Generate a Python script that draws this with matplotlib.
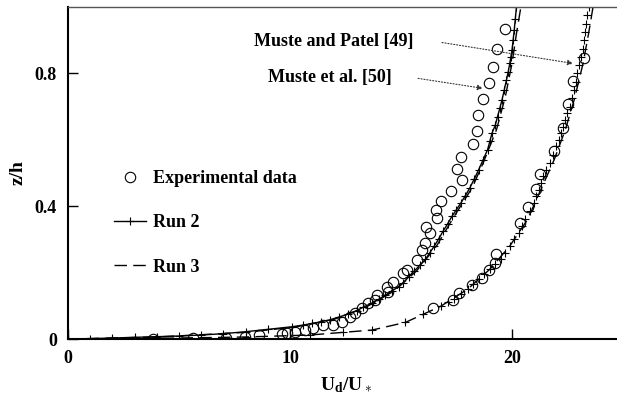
import numpy as np
import matplotlib
matplotlib.use("Agg")
import matplotlib.pyplot as plt

plt.rcParams['font.family'] = ['Liberation Serif', 'DejaVu Serif']
plt.rcParams['font.weight'] = 'bold'
plt.rcParams['mathtext.fontset'] = 'custom'
plt.rcParams['mathtext.rm'] = 'Liberation Serif:bold'
plt.rcParams['mathtext.bf'] = 'Liberation Serif:bold'
plt.rcParams['mathtext.it'] = 'Liberation Serif:bold:italic'

# experimental data, Muste et al. [50] (left profile)
exp_left_u = [19.68, 19.32, 19.14, 18.96, 18.69, 18.47, 18.42, 18.24, 17.70, 17.52,
              17.75, 17.25, 16.80, 16.58, 16.62, 16.13, 16.31, 16.08, 15.95, 15.72,
              15.27, 15.09, 14.64, 14.37, 14.41, 13.92, 13.83, 13.51, 13.24, 12.93,
              12.70, 12.34, 11.94, 11.49, 11.04, 10.68, 10.23, 9.86, 9.64, 8.60,
              7.97, 7.12, 5.63, 3.83]
exp_left_z = [0.935, 0.875, 0.818, 0.770, 0.722, 0.674, 0.626, 0.586, 0.547, 0.511,
              0.478, 0.445, 0.415, 0.388, 0.364, 0.337, 0.319, 0.289, 0.268, 0.238,
              0.208, 0.198, 0.171, 0.156, 0.141, 0.132, 0.117, 0.108, 0.093, 0.078,
              0.066, 0.051, 0.042, 0.042, 0.033, 0.027, 0.021, 0.018, 0.015, 0.012,
              0.006, 0.003, 0.003, 0.0]

# experimental data, Muste and Patel [49] (right profile)
exp_right_u = [16.44, 17.34, 17.61, 18.20, 18.65, 18.96, 19.23, 19.28, 20.36, 20.72,
               21.08, 21.26, 21.89, 22.30, 22.52, 22.75, 23.24]
exp_right_z = [0.093, 0.117, 0.138, 0.162, 0.183, 0.208, 0.229, 0.256, 0.349, 0.397,
               0.451, 0.496, 0.565, 0.635, 0.707, 0.776, 0.845]

# Run 2 / Run 3 computed profiles
run2_left_u = [0, 1, 2, 3, 4, 5, 6, 7, 8, 9, 10.1, 10.6, 11.0, 11.4, 11.8, 12.2,
               12.6, 13.0, 13.3, 13.7, 14.0, 14.3, 14.6, 14.9, 15.1, 15.35, 15.6,
               15.85, 16.1, 16.3, 16.5, 16.7, 16.9, 17.1, 17.3, 17.5, 17.7, 17.9,
               18.1, 18.3, 18.5, 18.7, 18.9, 19.0, 19.1, 19.25, 19.35, 19.45, 19.55,
               19.65, 19.75, 19.83, 19.9, 19.95, 20.0, 20.05, 20.1, 20.15, 20.2]
run2_left_z = [0, 0.001, 0.003, 0.005, 0.007, 0.009, 0.012, 0.016, 0.022, 0.029,
               0.037, 0.042, 0.047, 0.052, 0.058, 0.066, 0.075, 0.085, 0.096, 0.108,
               0.12, 0.132, 0.145, 0.158, 0.17, 0.187, 0.205, 0.222, 0.24, 0.26,
               0.28, 0.302, 0.325, 0.347, 0.37, 0.39, 0.41, 0.432, 0.455, 0.482,
               0.51, 0.54, 0.57, 0.595, 0.62, 0.645, 0.67, 0.695, 0.72, 0.75, 0.78,
               0.805, 0.83, 0.85, 0.87, 0.90, 0.93, 0.965, 1.0]
run3_left_u = [0, 4, 8, 10.2, 11.9, 13.4, 14.7, 15.7, 16.6, 17.4, 18.2, 18.7, 19.3,
               19.7, 20.0, 20.2, 20.4]
run3_left_z = [0, 0.006, 0.02, 0.036, 0.057, 0.095, 0.145, 0.205, 0.28, 0.37, 0.455,
               0.53, 0.63, 0.73, 0.83, 0.92, 1.0]

run2_right_u = [0, 2, 4, 6, 8, 10.9, 12.4, 13.7, 15.2, 16.0, 16.8, 17.1, 17.4, 17.7,
                18.0, 18.25, 18.5, 18.75, 19.0, 19.25, 19.5, 19.7, 19.9, 20.1, 20.3,
                20.45, 20.6, 20.8, 21.0, 21.1, 21.2, 21.3, 21.4, 21.55, 21.7, 21.85,
                22.0, 22.1, 22.2, 22.3, 22.4, 22.5, 22.6, 22.7, 22.8, 22.88, 22.95,
                23.03, 23.1, 23.18, 23.25, 23.3, 23.35, 23.4, 23.45]
run2_right_z = [0, 0.001, 0.002, 0.004, 0.006, 0.012, 0.02, 0.027, 0.05, 0.075,
                0.099, 0.11, 0.12, 0.135, 0.15, 0.165, 0.18, 0.195, 0.21, 0.225,
                0.24, 0.26, 0.28, 0.30, 0.32, 0.34, 0.36, 0.385, 0.41, 0.43, 0.45,
                0.47, 0.49, 0.51, 0.53, 0.555, 0.58, 0.60, 0.62, 0.64, 0.66, 0.68,
                0.70, 0.725, 0.75, 0.775, 0.80, 0.825, 0.85, 0.875, 0.90, 0.925,
                0.95, 0.975, 1.0]
run3_right_u = [0, 4, 8, 10.9, 13.7, 15.2, 16.8, 18.0, 19.0, 19.9, 20.7, 21.3, 21.9,
                22.4, 22.8, 23.2, 23.45, 23.65]
run3_right_z = [0, 0.002, 0.006, 0.012, 0.027, 0.05, 0.099, 0.15, 0.21, 0.28, 0.36,
                0.45, 0.54, 0.63, 0.72, 0.83, 0.92, 1.0]

fig = plt.figure(figsize=(6.17, 3.97), dpi=100)
ax = fig.add_axes([68 / 617, 58 / 397, 555 / 617, 332 / 397])

dash = (0, (9, 4.5))
ax.plot(run3_left_u, run3_left_z, color='k', lw=1.0, linestyle=dash, label='Run 3')
ax.plot(run3_right_u, run3_right_z, color='k', lw=1.0, linestyle=dash)
ax.plot(run2_left_u, run2_left_z, color='k', lw=1.0, marker='+', ms=5.5, mew=0.8,
        label='Run 2')
ax.plot(run2_right_u, run2_right_z, color='k', lw=0, marker='+', ms=5.5, mew=0.8)
ax.plot(exp_left_u, exp_left_z, 'o', mfc='none', mec='k', ms=7.5, mew=0.8,
        label='Experimental data')
ax.plot(exp_right_u, exp_right_z, 'o', mfc='none', mec='k', ms=7.5, mew=0.8)

ax.set_xlim(0, 25)
ax.set_ylim(0, 1.0)
ax.set_xticks([0, 10, 20])
ax.set_xticklabels(['0', '10', '20'])
ax.set_yticks([0, 0.4, 0.8])
ax.set_yticklabels(['0', '0.4', '0.8'])
ax.tick_params(direction='in', length=7, width=1, labelsize=13, pad=8)
for lab in ax.get_xticklabels() + ax.get_yticklabels():
    lab.set_fontweight('bold')

for s in ['left', 'bottom']:
    ax.spines[s].set_linewidth(1.5)
ax.spines['top'].set_color('#555555')
ax.spines['top'].set_linewidth(1.0)

ax.set_xlabel(r'U$_\mathrm{d}$/U$_\ast$', fontsize=14, fontweight='bold')
ax.xaxis.set_label_coords(0.5, -0.108)
ax.set_ylabel('z/h', fontsize=14, fontweight='bold')
ax.yaxis.set_label_coords(-0.075, 0.5)

ax.text(11.96, 0.896, 'Muste and Patel [49]', fontsize=13, fontweight='bold',
        ha='center', va='center')
ax.text(11.8, 0.788, 'Muste et al. [50]', fontsize=13, fontweight='bold',
        ha='center', va='center')
arrow = dict(arrowstyle='-|>', linestyle=':', lw=0.8, color='#333333',
             mutation_scale=8, shrinkA=0, shrinkB=0)
ax.annotate('', xy=(22.75, 0.83), xytext=(16.85, 0.893), arrowprops=arrow)
ax.annotate('', xy=(18.69, 0.755), xytext=(15.77, 0.785), arrowprops=arrow)

handles, labels = ax.get_legend_handles_labels()
order = [2, 1, 0]
ax.legend([handles[i] for i in order], [labels[i] for i in order],
          loc='upper left', bbox_to_anchor=(0.083, 0.508), frameon=False,
          handlelength=1.75, handletextpad=0.4, labelspacing=1.5,
          borderpad=0, borderaxespad=0, prop={'weight': 'bold', 'size': 13})

fig.savefig('out.png', dpi=100)
